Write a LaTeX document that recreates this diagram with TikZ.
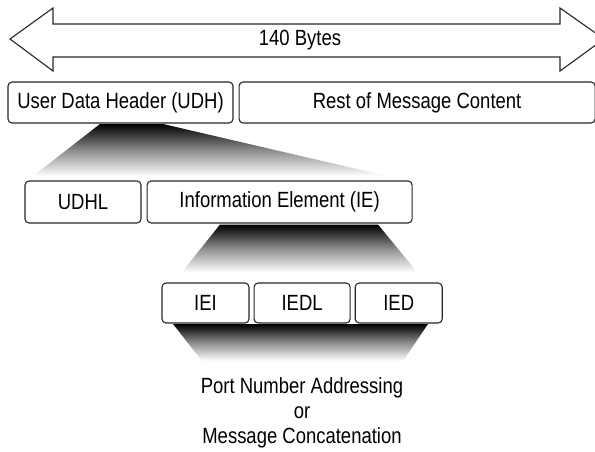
\documentclass[tikz,border=0pt]{standalone}
\usepackage{fontspec}
\setmainfont{Liberation Sans}[FakeStretch=0.84]
\usepackage{tikz}
\usetikzlibrary{positioning}

\begin{document}
\begin{tikzpicture}[x=1pt,y=-1pt,font=\fontsize{22}{25}\selectfont,field/.style={draw=black!85,line width=1.1pt,rectangle,rounded corners=4pt,inner sep=0pt},fan/.style={top color=black,bottom color=white,middle color=black!45}]
	\useasboundingbox (0,0) rectangle (595,451);
	\clip (0,0) rectangle (595,451);
	\draw[line width=1.1pt,line join=miter,draw=black!85]
		(10,39) -- (53,8) -- (53,24) -- (560,24) -- (560,8) -- (604,39) -- (560,71) -- (560,57) -- (53,57) -- (53,71) -- cycle;
	\node					(bytes)	at (300,40)								{140 Bytes};
	\node[field,minimum width=225pt,minimum height=41pt]	(udh)	at (120.5,102.5)	{User Data Header (UDH)};
	\node[field,minimum width=356pt,minimum height=41pt]	(rest)	[right=5pt of udh]	{Rest of Message Content};
	\node[field,minimum width=116pt,minimum height=42pt]	(udhl)	at (83,202)		{UDHL};
	\node[field,minimum width=265pt,minimum height=42pt]	(ie)	[right=5pt of udhl]	{Information Element (IE)};
	\node[field,minimum width=87pt,minimum height=40pt]	(iei)	at (205.5,303)		{IEI};
	\node[field,minimum width=96pt,minimum height=40pt]	(iedl)	[right=4pt of iei]	{IEDL};
	\node[field,minimum width=87pt,minimum height=40pt]	(ied)	[right=4pt of iedl]	{IED};
	\node[align=center]		(use)	at (302,413)							{Port Number Addressing\\or\\Message Concatenation};

	\shade[fan] (100,124) -- (163,124) -- (387,176) -- (33,176) -- cycle;
	\shade[fan] (220,224.5) -- (378,224.5) -- (417,272) -- (182,272) -- cycle;
	\shade[fan] (173,324) -- (428,324) -- (403,361) -- (202,361) -- cycle;
\end{tikzpicture}
\end{document}
